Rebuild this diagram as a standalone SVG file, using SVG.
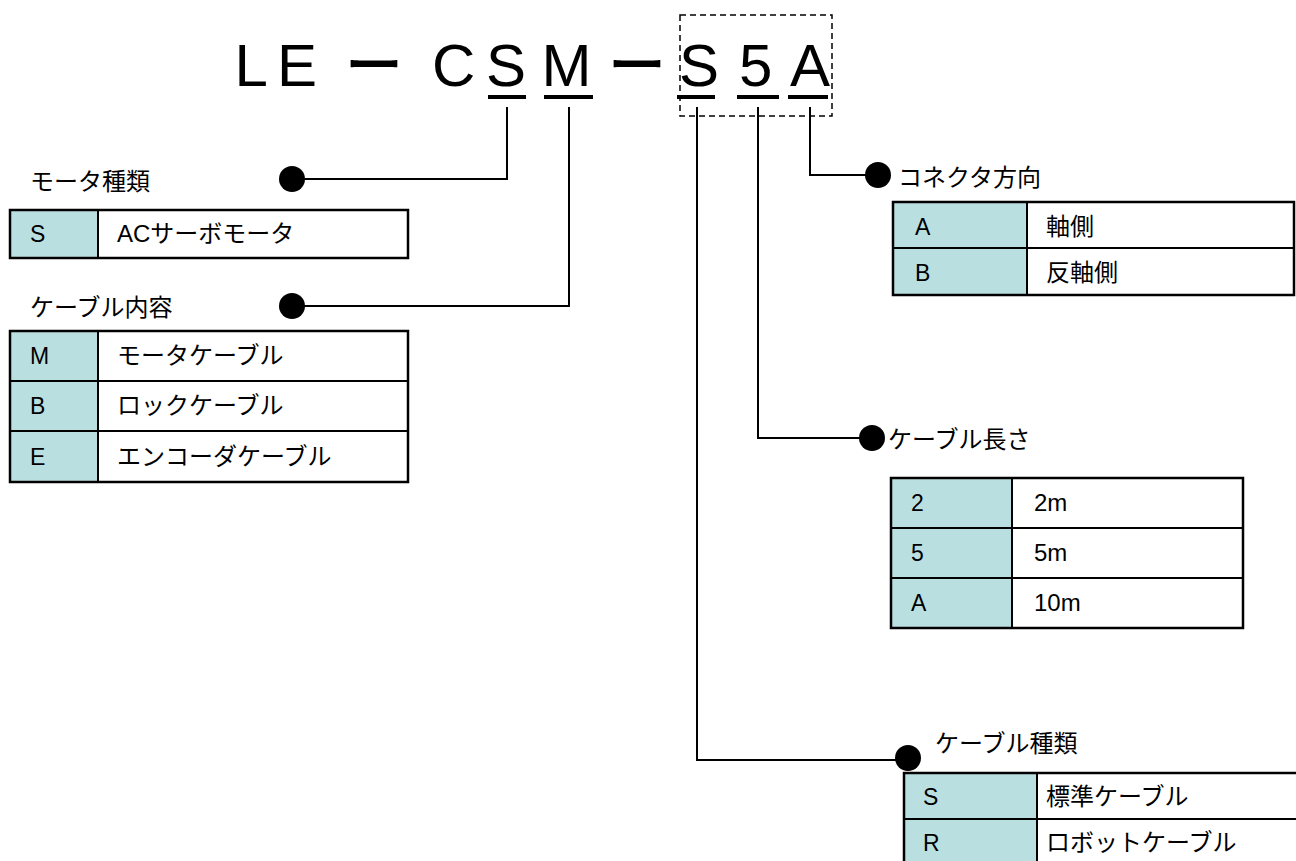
<svg xmlns="http://www.w3.org/2000/svg" width="1296" height="861" viewBox="0 0 1296 861">
<style>
.t{font-family:"Liberation Sans","Noto Sans CJK JP",sans-serif;font-size:24px;fill:#000}
.k{font-family:"Liberation Sans","Noto Sans CJK JP",sans-serif;font-size:23px;fill:#000}
.title{font-family:"Liberation Sans","Noto Sans CJK JP",sans-serif;font-size:60px;fill:#000}
.dash{font-family:"Noto Sans CJK JP",sans-serif;font-size:58px;font-weight:500}
.key{fill:#badfe0;stroke:none}
.frame{fill:none;stroke:#000;stroke-width:2.5}
.div{stroke:#000;stroke-width:2}
.con{fill:none;stroke:#000;stroke-width:2}
.dot{fill:#000}
.ul{fill:#000}
</style>
<rect width="1296" height="861" fill="#fff"/>
<g id="title">
<text class="title" y="86"><tspan x="234.6 277">LE</tspan><tspan class="dash" x="345">ー</tspan><tspan x="432 486 541.6">CSM</tspan><tspan class="dash" x="608">ー</tspan><tspan x="679 739 790">S5A</tspan></text>
<rect class="ul" x="488" y="95" width="38" height="4"/>
<rect class="ul" x="544" y="95" width="49" height="4"/>
<rect class="ul" x="677" y="95" width="38" height="4"/>
<rect class="ul" x="737" y="95" width="42" height="4"/>
<rect class="ul" x="788" y="95" width="40" height="4"/>
<rect x="680" y="15" width="152" height="101" fill="none" stroke="#000" stroke-width="1.5" stroke-dasharray="6 4"/>
</g>
<g id="connectors">
<polyline class="con" points="507,107 507,179 292,179"/>
<polyline class="con" points="569,107 569,306 292,306"/>
<polyline class="con" points="810,107 810,175 878,175"/>
<polyline class="con" points="758,107 758,438 872,438"/>
<polyline class="con" points="697,107 697,760 908,760"/>
</g>
<g id="node-motor-type">
<circle class="dot" cx="292" cy="179" r="13"/>
<text class="t" x="30" y="190">モータ種類</text>
<rect class="key" x="10" y="210" width="88" height="48"/>
<rect class="frame" x="10" y="210" width="398" height="48"/>
<line class="div" x1="98" y1="210" x2="98" y2="258"/>
<text class="k" x="30" y="242">S</text>
<text class="t" x="117" y="242">ACサーボモータ</text>
</g>
<g id="node-cable-content">
<circle class="dot" cx="292" cy="306" r="13"/>
<text class="t" x="30" y="316">ケーブル内容</text>
<rect class="key" x="10" y="331" width="88" height="151"/>
<rect class="frame" x="10" y="331" width="398" height="151"/>
<line class="div" x1="98" y1="331" x2="98" y2="482"/>
<line class="div" x1="10" y1="381" x2="408" y2="381"/>
<line class="div" x1="10" y1="431" x2="408" y2="431"/>
<text class="k" x="30" y="364">M</text>
<text class="t" x="117" y="364">モータケーブル</text>
<text class="k" x="30" y="414">B</text>
<text class="t" x="117" y="414">ロックケーブル</text>
<text class="k" x="30" y="465">E</text>
<text class="t" x="117" y="465">エンコーダケーブル</text>
</g>
<g id="node-connector-direction">
<circle class="dot" cx="878" cy="175" r="13"/>
<text class="t" x="898" y="186">コネクタ方向</text>
<rect class="key" x="893" y="202" width="134" height="93"/>
<rect class="frame" x="893" y="202" width="401" height="93"/>
<line class="div" x1="1027" y1="202" x2="1027" y2="295"/>
<line class="div" x1="893" y1="248" x2="1294" y2="248"/>
<text class="k" x="915" y="235">A</text>
<text class="t" x="1046" y="235">軸側</text>
<text class="k" x="915" y="281">B</text>
<text class="t" x="1046" y="281">反軸側</text>
</g>
<g id="node-cable-length">
<circle class="dot" cx="872" cy="438" r="13"/>
<text class="t" x="888" y="448">ケーブル長さ</text>
<rect class="key" x="891" y="478" width="121" height="150"/>
<rect class="frame" x="891" y="478" width="352" height="150"/>
<line class="div" x1="1012" y1="478" x2="1012" y2="628"/>
<line class="div" x1="891" y1="528" x2="1243" y2="528"/>
<line class="div" x1="891" y1="578" x2="1243" y2="578"/>
<text class="k" x="911" y="511">2</text>
<text class="t" x="1034" y="511">2m</text>
<text class="k" x="911" y="561">5</text>
<text class="t" x="1034" y="561">5m</text>
<text class="k" x="911" y="611">A</text>
<text class="t" x="1034" y="611">10m</text>
</g>
<g id="node-cable-type">
<circle class="dot" cx="908" cy="758" r="13"/>
<text class="t" x="935" y="752">ケーブル種類</text>
<rect class="key" x="904" y="773" width="133" height="100"/>
<rect class="frame" x="904" y="773" width="410" height="100"/>
<line class="div" x1="1037" y1="773" x2="1037" y2="873"/>
<line class="div" x1="904" y1="819" x2="1310" y2="819"/>
<text class="k" x="923" y="805">S</text>
<text class="t" x="1046" y="805">標準ケーブル</text>
<text class="k" x="923" y="851">R</text>
<text class="t" x="1046" y="851">ロボットケーブル</text>
</g>
</svg>
